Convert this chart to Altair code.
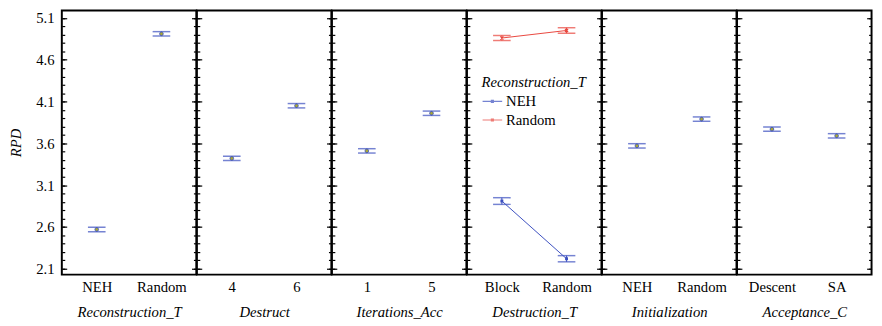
import altair as alt
import pandas as pd

# ---------------- data ----------------
FACTORS = ["Reconstruction_T", "Destruct", "Iterations_Acc", "Destruction_T",
           "Initialization", "Acceptance_C"]
LEVELS = [["NEH", "Random"], ["4", "6"], ["1", "5"], ["Block", "Random"],
          ["NEH", "Random"], ["Descent", "SA"]]
MEANS = [[2.57, 4.91], [3.42, 4.05], [3.51, 3.96], None, [3.57, 3.89], [3.77, 3.69]]
HALF = [[0.026, 0.026], [0.026, 0.026], [0.026, 0.026], None,
        [0.026, 0.026], [0.026, 0.026]]

# interaction panel (Destruction_T x Reconstruction_T)
DT_SERIES = ["NEH", "Random"]
DT_NEH_MEAN = [2.91, 2.22]
DT_NEH_HALF = [0.04, 0.037]
DT_RANDOM_MEAN = [4.86, 4.95]
DT_RANDOM_HALF = [0.03, 0.033]

MAJOR_TICKS = [2.1, 2.6, 3.1, 3.6, 4.1, 4.6, 5.1]
MINOR_TICKS = [2.1, 2.2, 2.3, 2.4, 2.5, 2.6, 2.7, 2.8, 2.9, 3.0, 3.1, 3.2,
               3.3, 3.4, 3.5, 3.6, 3.7, 3.8, 3.9, 4.0, 4.1, 4.2, 4.3, 4.4, 4.5,
               4.6, 4.7, 4.8, 4.9, 5.0, 5.1]
Y_DOMAIN = [2.03, 5.19]

# ---------------- style ----------------
FONT = "Liberation Serif, Times New Roman, Times, serif"
BLUE = "#3b4fbf"
RED = "#e8453c"
OLIVE = "#a9a836"
PANEL_W = 137.5
PANEL_H = 270
FS = 15

yscale = alt.Scale(domain=Y_DOMAIN, nice=False, zero=False)


def x_enc(levels, title):
    return alt.X(
        "level:N",
        sort=levels,
        scale=alt.Scale(type="point", domain=levels, padding=0.54),
        axis=alt.Axis(title=title, ticks=False, domain=False, labelAngle=0,
                      labelPadding=5, titlePadding=11, labelFontSize=FS,
                      titleFontSize=FS, titleFontStyle="italic",
                      titleFontWeight="normal", labelColor="black",
                      titleColor="black", labelFont=FONT, titleFont=FONT),
    )


def axis_layers(df, X, first):
    def carrier(axis):
        return alt.Chart(df).mark_point(opacity=0).encode(
            x=X, y=alt.Y("mean:Q", scale=yscale, axis=axis)
        )

    common = dict(domain=False, grid=False, tickColor="black", tickWidth=1.2)
    left_major = alt.Axis(
        orient="left", values=MAJOR_TICKS, tickSize=5, offset=-5,
        labels=first, labelPadding=8, format=".1f", labelFontSize=FS,
        labelFont=FONT, labelColor="black",
        title="RPD" if first else "", titleFontStyle="italic",
        titleFontWeight="normal", titleFontSize=FS, titleFont=FONT,
        titleColor="black", titlePadding=12, **common)
    left_minor = alt.Axis(orient="left", values=MINOR_TICKS, tickSize=3,
                          offset=-3, labels=False, title="", **common)
    right_major = alt.Axis(orient="right", values=MAJOR_TICKS, tickSize=5,
                           offset=-5, labels=False, title="", **common)
    right_minor = alt.Axis(orient="right", values=MINOR_TICKS, tickSize=3,
                           offset=-3, labels=False, title="", **common)
    return [carrier(left_major), carrier(left_minor),
            carrier(right_major), carrier(right_minor)]


def simple_panel(i):
    levels = LEVELS[i]
    df = pd.DataFrame({
        "level": levels,
        "mean": MEANS[i],
        "lo": [m - h for m, h in zip(MEANS[i], HALF[i])],
        "hi": [m + h for m, h in zip(MEANS[i], HALF[i])],
    })
    X = x_enc(levels, FACTORS[i])
    base = alt.Chart(df)
    rule = base.mark_rule(color=BLUE, strokeWidth=1).encode(
        x=X, y=alt.Y("lo:Q", scale=yscale, axis=None), y2="hi:Q")
    cap_lo = base.mark_tick(color=BLUE, size=18, thickness=1.5).encode(
        x=X, y=alt.Y("lo:Q", scale=yscale, axis=None))
    cap_hi = base.mark_tick(color=BLUE, size=18, thickness=1.5).encode(
        x=X, y=alt.Y("hi:Q", scale=yscale, axis=None))
    pt = base.mark_circle(size=14, fill=OLIVE, stroke=BLUE, strokeWidth=0.8,
                          opacity=1).encode(
        x=X, y=alt.Y("mean:Q", scale=yscale, axis=None))
    layers = axis_layers(df, X, i == 0) + [rule, cap_lo, cap_hi, pt]
    return alt.layer(*layers).resolve_axis(y="independent").properties(
        width=PANEL_W, height=PANEL_H)


def interaction_panel(i):
    levels = LEVELS[i]
    rows = []
    for s, means, halves in [("NEH", DT_NEH_MEAN, DT_NEH_HALF),
                             ("Random", DT_RANDOM_MEAN, DT_RANDOM_HALF)]:
        for lv, m, h in zip(levels, means, halves):
            rows.append({"level": lv, "series": s, "mean": m,
                         "lo": m - h, "hi": m + h})
    df = pd.DataFrame(rows)
    X = x_enc(levels, FACTORS[i])
    legend = alt.Legend(
        title="Reconstruction_T", orient="none", legendX=429, legendY=66,
        titleFontStyle="italic", titleFontWeight="normal", titleFontSize=FS,
        titleFont=FONT, titleColor="black", labelFontSize=FS, labelFont=FONT,
        labelColor="black", symbolType="M-1,0H1M-0.1,-0.1H0.1V0.1H-0.1Z",
        symbolSize=400, symbolStrokeWidth=1.2, symbolFillColor="transparent",
        rowPadding=0, titlePadding=1, labelOffset=3)
    C = alt.Color("series:N", scale=alt.Scale(domain=DT_SERIES,
                                               range=[BLUE, RED]),
                  legend=legend)
    base = alt.Chart(df)
    line = base.mark_line(strokeWidth=1).encode(
        x=X, y=alt.Y("mean:Q", scale=yscale, axis=None), color=C,
        detail="series:N")
    rule = base.mark_rule(strokeWidth=1).encode(
        x=X, y=alt.Y("lo:Q", scale=yscale, axis=None), y2="hi:Q", color=C)
    cap_lo = base.mark_tick(size=18, thickness=1.5).encode(
        x=X, y=alt.Y("lo:Q", scale=yscale, axis=None), color=C)
    cap_hi = base.mark_tick(size=18, thickness=1.5).encode(
        x=X, y=alt.Y("hi:Q", scale=yscale, axis=None), color=C)
    neh_pts = base.transform_filter(alt.datum.series == "NEH").mark_square(
        size=9, color=BLUE, opacity=1).encode(
        x=X, y=alt.Y("mean:Q", scale=yscale, axis=None))
    rnd_pts = base.transform_filter(alt.datum.series == "Random").mark_point(
        shape="M-1,-1L1,1M-1,1L1,-1", size=10, strokeWidth=1.2, color=RED,
        filled=False, opacity=1).encode(
        x=X, y=alt.Y("mean:Q", scale=yscale, axis=None))
    layers = axis_layers(df, X, False) + [line, rule, cap_lo, cap_hi,
                                          neh_pts, rnd_pts]
    return alt.layer(*layers).resolve_axis(y="independent").properties(
        width=PANEL_W, height=PANEL_H)


panels = [interaction_panel(i) if MEANS[i] is None else simple_panel(i)
          for i in range(len(FACTORS))]

chart = alt.hconcat(*panels, spacing=0, bounds="flush").properties(
    padding={"left": 0, "top": -2, "right": 0, "bottom": 0}
).configure(font=FONT).configure_view(stroke="black", strokeWidth=2)

chart.save("out.html", embed_options={"renderer": "svg", "actions": False})
